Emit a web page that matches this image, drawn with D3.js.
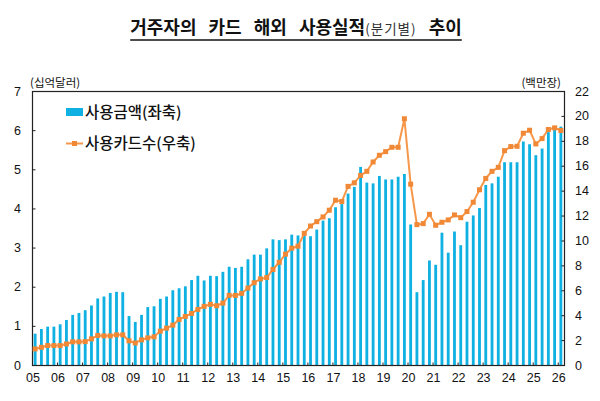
<!DOCTYPE html>
<html>
<head>
<meta charset="utf-8">
<script src="https://cdn.jsdelivr.net/npm/d3@7"></script>
<style>
  html, body { margin: 0; padding: 0; background: #fff; }
  svg { display: block; }
  .kr { font-family: "Noto Sans CJK KR", "Noto Sans", sans-serif; }
  .num { font-family: "Liberation Sans Narrow", "Liberation Sans", Arial, sans-serif; font-size: 12.5px; fill: #111; }
</style>
</head>
<body>
<div id="chart"></div>
<script>
// years shown on the x axis (tick labels)
const yearLabels = ["05","06","07","08","09","10","11","12","13","14","15",
                    "16","17","18","19","20","21","22","23","24","25","26"];
const quarterNames = ["Q1","Q2","Q3","Q4"];

// 사용금액 (십억달러), quarterly from 05Q1 to 26Q1
const amount = [
  0.80, 0.92, 0.98, 0.98,  1.04, 1.15, 1.28, 1.33,  1.40, 1.52, 1.70, 1.75,
  1.84, 1.87, 1.86, 1.25,  1.10, 1.28, 1.48, 1.50,  1.69, 1.75, 1.91, 1.96,
  2.01, 2.17, 2.28, 2.16,  2.28, 2.27, 2.38, 2.51,  2.48, 2.51, 2.70, 2.82,
  2.82, 2.98, 3.21, 3.19,  3.21, 3.33, 3.31, 3.41,  3.29, 3.46, 3.69, 3.75,
  4.03, 4.11, 4.38, 4.55,  5.06, 4.66, 4.64, 4.83,  4.74, 4.74, 4.81, 4.88,
  3.59, 1.86, 2.17, 2.67,  2.56, 3.38, 2.87, 3.41,  3.06, 3.66, 3.82, 4.01,
  4.60, 4.64, 4.81, 5.18,  5.18, 5.18, 5.71, 5.64,  5.36, 5.53, 5.95, 6.02,
  6.09
];

// 사용카드수 (백만장), same quarters
const cards = [
  1.29, 1.42, 1.56, 1.56,  1.56, 1.69, 1.86, 1.86,  1.88, 2.10, 2.37, 2.34,
  2.34, 2.42, 2.42, 1.94,  1.77, 2.02, 2.18, 2.26,  2.72, 2.96, 3.20, 3.66,
  3.90, 4.14, 4.46, 4.71,  4.87, 4.76, 4.97, 5.59,  5.59, 5.75, 6.18, 6.61,
  6.91, 7.02, 7.67, 8.25,  8.90, 9.38, 9.54, 10.57, 11.16, 11.51, 11.89, 12.43,
  13.23, 13.13, 14.34, 14.63, 15.22, 15.55, 16.30, 16.84, 17.13, 17.48, 17.48, 19.77,
  14.52, 11.27, 11.35, 12.10, 11.22, 11.46, 11.65, 12.05, 11.83, 12.32, 13.07, 14.07,
  14.98, 15.55, 15.87, 17.21, 17.54, 17.56, 18.61, 18.85, 17.75, 18.18, 18.91, 19.04,
  18.83
];

const leftTicks = [0, 1, 2, 3, 4, 5, 6, 7];
const rightTicks = [0, 2, 4, 6, 8, 10, 12, 14, 16, 18, 20, 22];

// quarter categories built from the year labels
const categories = [];
yearLabels.forEach(y => quarterNames.forEach(q => categories.push(y + q)));
categories.length = amount.length;

const width = 600, height = 401;
const plot = { left: 32, right: 564, top: 91, bottom: 365 };

const svg = d3.select("#chart").append("svg")
  .attr("width", width)
  .attr("height", height);

// scales
const x = d3.scaleBand()
  .domain(categories)
  .range([plot.left, plot.right])
  .paddingInner(0.55)
  .paddingOuter(0.275);

const xEdge = d3.scaleLinear()
  .domain([0, categories.length])
  .range([plot.left, plot.right]);

const yLeft = d3.scaleLinear().domain([0, 7]).range([plot.bottom, plot.top]);
const yRight = d3.scaleLinear().domain([0, 22]).range([plot.bottom, plot.top]);

// title
const title = svg.append("text")
  .attr("class", "kr")
  .attr("x", 296)
  .attr("y", 34)
  .attr("text-anchor", "middle")
  .style("fill", "#111")
  .style("word-spacing", "8px");
title.append("tspan").text("거주자의 카드 해외 사용실적")
  .style("font-size", "18px").style("font-weight", "700");
title.append("tspan").text("(분기별)")
  .style("font-size", "13.5px").style("font-weight", "400")
  .style("letter-spacing", "1px").style("fill", "#333");
title.append("tspan").text(" 추이")
  .style("font-size", "18px").style("font-weight", "700");

const tb = title.node().getBBox();
svg.append("line")
  .attr("x1", tb.x).attr("x2", tb.x + tb.width)
  .attr("y1", 40).attr("y2", 40)
  .attr("stroke", "#111").attr("stroke-width", 1.3);

// unit labels
svg.append("text").attr("class", "kr")
  .attr("x", 30).attr("y", 87)
  .style("font-size", "11.5px").style("fill", "#111")
  .text("(십억달러)");
svg.append("text").attr("class", "kr")
  .attr("x", 561).attr("y", 87)
  .attr("text-anchor", "end")
  .style("font-size", "11.5px").style("fill", "#111")
  .text("(백만장)");

// bars
svg.append("g").selectAll("rect")
  .data(amount)
  .enter()
  .append("rect")
  .attr("x", (d, i) => x(categories[i]))
  .attr("y", d => yLeft(d))
  .attr("width", x.bandwidth())
  .attr("height", d => yLeft(0) - yLeft(d))
  .attr("fill", "#0fb0e2");

// frame
svg.append("rect")
  .attr("x", plot.left + 0.5).attr("y", plot.top + 0.5)
  .attr("width", plot.right - plot.left)
  .attr("height", plot.bottom - plot.top)
  .attr("fill", "none")
  .attr("stroke", "#222")
  .attr("stroke-width", 1.2);

// left axis
const leftAxis = svg.append("g")
  .attr("transform", `translate(${plot.left + 0.5},0)`)
  .call(d3.axisRight(yLeft).tickValues(leftTicks).tickSize(3).tickFormat(""));
leftAxis.select(".domain").remove();
svg.append("g").selectAll("text")
  .data(leftTicks)
  .enter()
  .append("text")
  .attr("class", "num")
  .attr("x", 21)
  .attr("y", d => yLeft(d) + 4.5)
  .attr("text-anchor", "end")
  .text(d => d);

// right axis
const rightAxis = svg.append("g")
  .attr("transform", `translate(${plot.right + 0.5},0)`)
  .call(d3.axisLeft(yRight).tickValues(rightTicks).tickSize(3).tickFormat(""));
rightAxis.select(".domain").remove();
svg.append("g").selectAll("text")
  .data(rightTicks)
  .enter()
  .append("text")
  .attr("class", "num")
  .attr("x", 575)
  .attr("y", d => yRight(d) + 4.5)
  .text(d => d);

// x axis: ticks at the start of each year
const yearIdx = yearLabels.map((y, k) => k * 4);
const xAxis = svg.append("g")
  .attr("transform", `translate(0,${plot.bottom + 0.5})`)
  .call(d3.axisTop(xEdge).tickValues(yearIdx).tickSize(3).tickFormat(""));
xAxis.select(".domain").remove();
svg.append("g").selectAll("text")
  .data(yearLabels)
  .enter()
  .append("text")
  .attr("class", "num")
  .attr("x", (d, k) => xEdge(k * 4) + 1)
  .attr("y", 382)
  .attr("text-anchor", "middle")
  .text(d => d);

svg.selectAll(".tick line").attr("stroke", "#222");

// line for cards
const line = d3.line()
  .x((d, i) => x(categories[i]) + x.bandwidth() / 2)
  .y(d => yRight(d));

svg.append("path")
  .datum(cards)
  .attr("d", line)
  .attr("fill", "none")
  .attr("stroke", "#f6974a")
  .attr("stroke-width", 2);

svg.append("g").selectAll("rect")
  .data(cards)
  .enter()
  .append("rect")
  .attr("x", (d, i) => x(categories[i]) + x.bandwidth() / 2 - 2.5)
  .attr("y", d => yRight(d) - 2.5)
  .attr("width", 5)
  .attr("height", 5)
  .attr("fill", "#f08836");

// legend
const legend = svg.append("g");
legend.append("rect")
  .attr("x", 66).attr("y", 108)
  .attr("width", 17).attr("height", 8)
  .attr("fill", "#0fb0e2");
legend.append("text").attr("class", "kr")
  .attr("x", 85).attr("y", 118)
  .style("font-size", "15.5px").style("font-weight", "500").style("fill", "#111")
  .text("사용금액(좌축)");

legend.append("line")
  .attr("x1", 66).attr("x2", 83)
  .attr("y1", 143.5).attr("y2", 143.5)
  .attr("stroke", "#f6974a").attr("stroke-width", 2);
legend.append("rect")
  .attr("x", 72).attr("y", 141)
  .attr("width", 5).attr("height", 5)
  .attr("fill", "#f08836");
legend.append("text").attr("class", "kr")
  .attr("x", 85).attr("y", 149)
  .style("font-size", "15.5px").style("font-weight", "500").style("fill", "#111")
  .text("사용카드수(우축)");
</script>
</body>
</html>
